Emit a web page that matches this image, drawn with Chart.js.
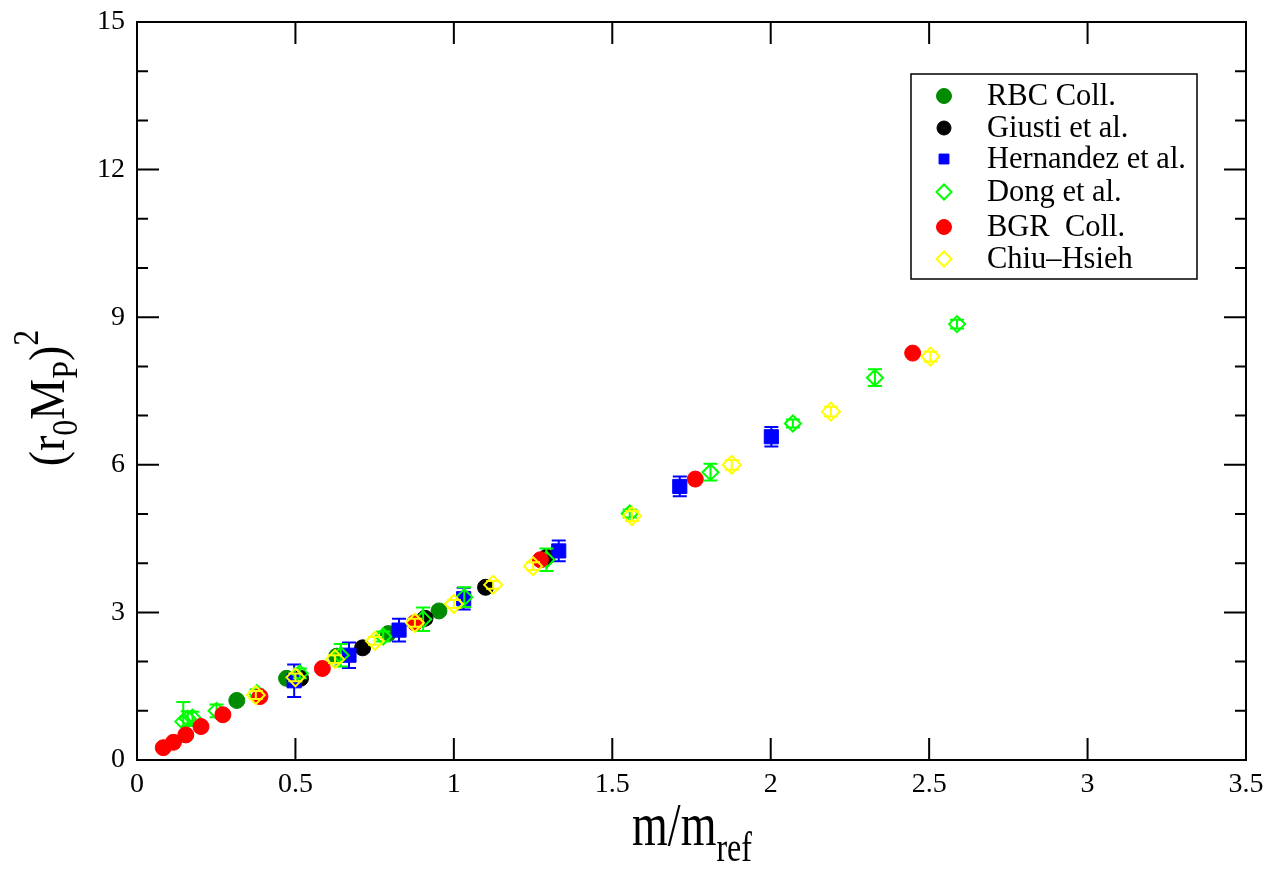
<!DOCTYPE html>
<html>
<head>
<meta charset="utf-8">
<title>(r0 MP)^2 vs m/mref</title>
<script src="https://cdn.jsdelivr.net/npm/chart.js@4.4.1/dist/chart.umd.min.js"></script>
<style>
  html, body { margin: 0; padding: 0; background: #fff; }
</style>
</head>
<body>
<canvas id="plot" width="1266" height="872"></canvas>
<script>
// tick values
var xTicks = [0, 0.5, 1, 1.5, 2, 2.5, 3, 3.5];
var yTicks = [0, 3, 6, 9, 12, 15];

// RBC Coll.
var rbcX = [0.315, 0.472, 0.630, 0.793, 0.953];
var rbcY = [1.21, 1.66, 2.11, 2.57, 3.03];

// Giusti et al.
var giustiX = [0.516, 0.712, 0.909, 1.100, 1.292];
var giustiY = [1.66, 2.28, 2.88, 3.51, 4.12];
var giustiErr = [0.06, 0.08, 0.08, 0.07, 0.08];

// Hernandez et al.
var hernX = [0.496, 0.669, 0.827, 1.031, 1.331, 1.713, 2.002];
var hernY = [1.61, 2.13, 2.64, 3.28, 4.25, 5.56, 6.57];
var hernErr = [0.33, 0.26, 0.23, 0.22, 0.21, 0.20, 0.20];

// Dong et al.
var dongX = [0.146, 0.160, 0.175, 0.251, 0.378, 0.514, 0.643, 0.777, 0.903, 1.033, 1.292, 1.555, 1.810, 2.070, 2.329, 2.588];
var dongY = [0.78, 0.84, 0.86, 1.00, 1.36, 1.76, 2.13, 2.51, 2.86, 3.31, 4.07, 5.01, 5.85, 6.84, 7.77, 8.86];
var dongErr = [0.40, 0.15, 0.12, 0.13, 0.08, 0.10, 0.23, 0.10, 0.24, 0.20, 0.23, 0.08, 0.17, 0.08, 0.17, 0.09];

// BGR Coll.
var bgrX = [0.083, 0.115, 0.154, 0.202, 0.271, 0.388, 0.585, 0.877, 1.273, 1.762, 2.448];
var bgrY = [0.25, 0.36, 0.51, 0.68, 0.92, 1.29, 1.86, 2.79, 4.07, 5.71, 8.27];

// Chiu-Hsieh
var chiuX = [0.375, 0.500, 0.625, 0.751, 0.877, 1.000, 1.124, 1.250, 1.562, 1.877, 2.190, 2.504];
var chiuY = [1.32, 1.68, 2.05, 2.42, 2.79, 3.17, 3.56, 3.94, 4.96, 6.00, 7.08, 8.20];
var chiuErr = [0.08, 0.08, 0.08, 0.08, 0.08, 0.08, 0.08, 0.08, 0.10, 0.10, 0.10, 0.10];

function pts(xs, ys) {
  return xs.map(function (x, i) { return { x: x, y: ys[i] }; });
}

var serif = "'Liberation Serif', 'DejaVu Serif', serif";

// vertical error bars drawn right after each dataset
var errorBars = {
  id: 'errorBars',
  afterDatasetDraw: function (chart, args) {
    var ds = chart.data.datasets[args.index];
    if (!ds.err) return;
    var xs = chart.scales.x, ys = chart.scales.y, ctx = chart.ctx;
    ctx.save();
    ctx.strokeStyle = ds.borderColor;
    ctx.lineWidth = 2;
    ds.data.forEach(function (p, i) {
      var e = ds.err[i];
      var px = xs.getPixelForValue(p.x);
      var top = ys.getPixelForValue(p.y + e);
      var bot = ys.getPixelForValue(p.y - e);
      ctx.beginPath();
      ctx.moveTo(px, top); ctx.lineTo(px, bot);
      ctx.moveTo(px - 7, top); ctx.lineTo(px + 7, top);
      ctx.moveTo(px - 7, bot); ctx.lineTo(px + 7, bot);
      ctx.stroke();
    });
    ctx.restore();
  }
};

// box around plot with inward ticks on all four sides
var frame = {
  id: 'frame',
  beforeDatasetsDraw: function (chart) {
    var a = chart.chartArea, ctx = chart.ctx;
    var xs = chart.scales.x, ys = chart.scales.y;
    ctx.save();
    ctx.strokeStyle = '#000';
    ctx.lineWidth = 2;
    ctx.strokeRect(a.left, a.top, a.right - a.left, a.bottom - a.top);
    ctx.beginPath();
    xTicks.forEach(function (v) {
      var p = xs.getPixelForValue(v);
      ctx.moveTo(p, a.bottom); ctx.lineTo(p, a.bottom - 22);
      ctx.moveTo(p, a.top); ctx.lineTo(p, a.top + 22);
    });
    for (var v = 0; v <= 15; v++) {
      var len = (v % 3 === 0) ? 22 : 11;
      var p = ys.getPixelForValue(v);
      ctx.moveTo(a.left, p); ctx.lineTo(a.left + len, p);
      ctx.moveTo(a.right, p); ctx.lineTo(a.right - len, p);
    }
    ctx.stroke();
    ctx.restore();
  }
};

// text with sub/superscripts
function richWidth(ctx, parts) {
  var w = 0;
  parts.forEach(function (p) { ctx.font = p.size + 'px ' + serif; w += ctx.measureText(p.t).width; });
  return w;
}
function drawRich(ctx, parts, x, y) {
  parts.forEach(function (p) {
    ctx.font = p.size + 'px ' + serif;
    ctx.fillText(p.t, x, y + (p.dy || 0));
    x += ctx.measureText(p.t).width;
  });
}

var titles = {
  id: 'titles',
  afterDraw: function (chart) {
    var ctx = chart.ctx;
    ctx.save();
    ctx.fillStyle = '#000';
    ctx.textBaseline = 'alphabetic';
    ctx.textAlign = 'left';
    var xt = [{ t: 'm/m', size: 46 }, { t: 'ref', size: 32, dy: 12 }];
    ctx.save();
    ctx.translate(692, 845);
    ctx.scale(1, 1.35);
    drawRich(ctx, xt, -richWidth(ctx, xt) / 2, 0);
    ctx.restore();

    var yt = [
      { t: '(r', size: 46 }, { t: '0', size: 32, dy: 12 },
      { t: 'M', size: 46 }, { t: 'P', size: 32, dy: 12 },
      { t: ')', size: 46 }, { t: '2', size: 32, dy: -24 }
    ];
    ctx.save();
    ctx.translate(64, 398);
    ctx.rotate(-Math.PI / 2);
    ctx.scale(1, 1.1);
    drawRich(ctx, yt, -richWidth(ctx, yt) / 2, 0);
    ctx.restore();
    ctx.restore();
  }
};

// boxed legend in the upper right of the plot
var legendBox = {
  id: 'legendBox',
  afterDraw: function (chart) {
    var ctx = chart.ctx;
    var left = 911, top = 74, w = 286, h = 205;
    var rows = [96, 128, 159, 192, 227, 259];
    ctx.save();
    ctx.fillStyle = '#fff';
    ctx.fillRect(left, top, w, h);
    ctx.strokeStyle = '#000';
    ctx.lineWidth = 1.5;
    ctx.strokeRect(left, top, w, h);
    chart.data.datasets.forEach(function (ds, i) {
      var y = rows[i];
      ctx.fillStyle = ds.backgroundColor;
      ctx.strokeStyle = ds.borderColor;
      ctx.lineWidth = ds.borderWidth;
      Chart.helpers.drawPoint(ctx, {
        pointStyle: ds.pointStyle,
        radius: ds.legendRadius,
        borderWidth: ds.borderWidth
      }, 944, y);
      ctx.save();
      ctx.fillStyle = '#000';
      ctx.font = '30.5px ' + serif;
      ctx.textBaseline = 'middle';
      ctx.fillText(ds.label, 987, y + 1);
      ctx.restore();
    });
    ctx.restore();
  }
};

var clear = 'rgba(0,0,0,0)';
var datasets = [
  { label: 'RBC Coll.', data: pts(rbcX, rbcY), pointStyle: 'circle', pointRadius: 8, legendRadius: 7.5,
    backgroundColor: '#008b00', borderColor: '#008b00', borderWidth: 1, order: 6 },
  { label: 'Giusti et al.', data: pts(giustiX, giustiY), err: giustiErr, pointStyle: 'circle', pointRadius: 8, legendRadius: 7,
    backgroundColor: '#000000', borderColor: '#000000', borderWidth: 1, order: 5 },
  { label: 'Hernandez et al.', data: pts(hernX, hernY), err: hernErr, pointStyle: 'rect', pointRadius: 10, legendRadius: 7,
    backgroundColor: '#0000ff', borderColor: '#0000ff', borderWidth: 1, order: 4 },
  { label: 'Dong et al.', data: pts(dongX, dongY), err: dongErr, pointStyle: 'rectRot', pointRadius: 8, legendRadius: 7.5,
    backgroundColor: clear, borderColor: '#00ff00', borderWidth: 2, order: 3 },
  { label: 'BGR  Coll.', data: pts(bgrX, bgrY), pointStyle: 'circle', pointRadius: 8, legendRadius: 7.5,
    backgroundColor: '#ff0000', borderColor: '#ff0000', borderWidth: 1, order: 2 },
  { label: 'Chiu\u2013Hsieh', data: pts(chiuX, chiuY), err: chiuErr, pointStyle: 'rectRot', pointRadius: 9, legendRadius: 7.5,
    backgroundColor: clear, borderColor: '#ffff00', borderWidth: 2, order: 1 }
];

new Chart(document.getElementById('plot'), {
  type: 'scatter',
  data: { datasets: datasets },
  options: {
    responsive: false,
    animation: false,
    events: [],
    layout: { padding: { left: 0, top: 22, right: 20, bottom: 0 } },
    plugins: { legend: { display: false }, tooltip: { enabled: false } },
    scales: {
      x: {
        type: 'linear', min: 0, max: 3.5,
        grid: { display: false }, border: { display: false },
        afterBuildTicks: function (s) { s.ticks = xTicks.map(function (v) { return { value: v }; }); },
        afterFit: function (s) { s.height = 112; },
        ticks: { color: '#000', padding: 0, maxRotation: 0, font: { family: serif, size: 28 },
          callback: function (v) { return String(v); } }
      },
      y: {
        type: 'linear', min: 0, max: 15,
        grid: { display: false }, border: { display: false },
        afterBuildTicks: function (s) { s.ticks = yTicks.map(function (v) { return { value: v }; }); },
        afterFit: function (s) { s.width = 137; },
        ticks: { color: '#000', padding: 4, font: { family: serif, size: 28 },
          callback: function (v) { return String(v); } }
      }
    }
  },
  plugins: [frame, errorBars, titles, legendBox]
});
</script>
</body>
</html>
